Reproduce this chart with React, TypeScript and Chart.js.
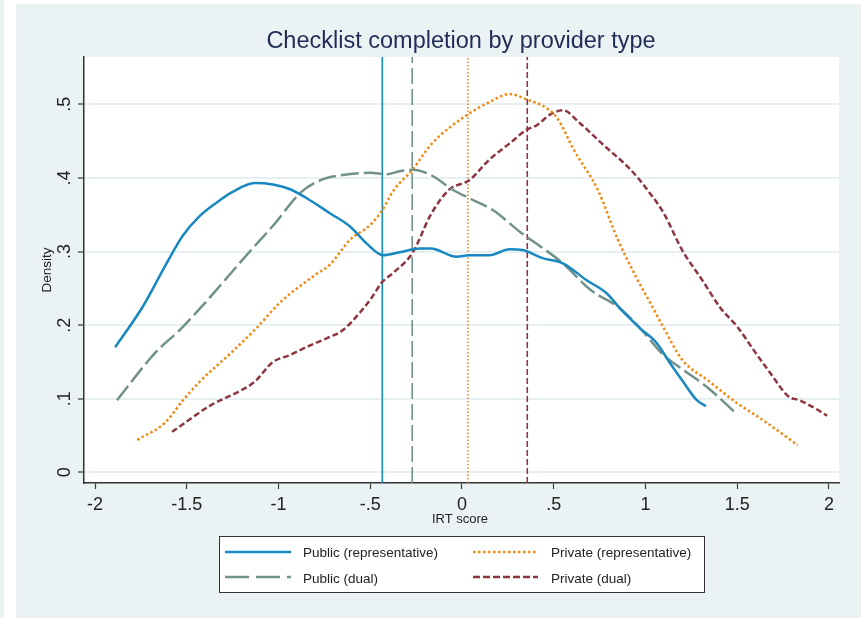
import React, { useEffect, useRef } from "react";
import { Chart, registerables } from "chart.js";

Chart.register(...registerables);

// ---------- data ----------
const xTicks = [-2, -1.5, -1, -0.5, 0, 0.5, 1, 1.5, 2];
const xTickLabels = ["-2", "-1.5", "-1", "-.5", "0", ".5", "1", "1.5", "2"];
const yTicks = [0, 0.1, 0.2, 0.3, 0.4, 0.5];
const yTickLabels = ["0", ".1", ".2", ".3", ".4", ".5"];
const xRange = [-2.06, 2.055];
const yRange = [-0.0145, 0.5643];

const seriesNames = [
  "Public (representative)",
  "Public (dual)",
  "Private (representative)",
  "Private (dual)",
];

const pubRepX = [-1.89, -1.74, -1.61, -1.52, -1.43, -1.34, -1.25, -1.13, -1.03, -0.94, -0.85, -0.72, -0.61, -0.52, -0.43, -0.34, -0.23, -0.17, -0.03, 0.04, 0.15, 0.26, 0.33, 0.44, 0.55, 0.68, 0.79, 0.86, 0.97, 1.06, 1.13, 1.2, 1.28, 1.33];
const pubRepY = [0.17, 0.225, 0.284, 0.322, 0.348, 0.366, 0.381, 0.393, 0.391, 0.385, 0.373, 0.352, 0.334, 0.311, 0.295, 0.299, 0.304, 0.304, 0.293, 0.295, 0.295, 0.303, 0.302, 0.291, 0.284, 0.261, 0.243, 0.223, 0.196, 0.176, 0.15, 0.125, 0.098, 0.09];

const pubDualX = [-1.88, -1.67, -1.54, -1.43, -1.16, -1.03, -0.88, -0.77, -0.65, -0.5, -0.41, -0.34, -0.27, -0.17, -0.05, 0.06, 0.17, 0.32, 0.55, 0.7, 0.86, 0.97, 1.1, 1.19, 1.34, 1.49];
const pubDualY = [0.098, 0.163, 0.193, 0.222, 0.299, 0.335, 0.38, 0.397, 0.404, 0.407, 0.405, 0.409, 0.411, 0.404, 0.384, 0.37, 0.356, 0.326, 0.284, 0.248, 0.223, 0.196, 0.159, 0.142, 0.115, 0.081];

const privRepX = [-1.77, -1.62, -1.52, -1.43, -1.26, -1.12, -0.99, -0.79, -0.72, -0.61, -0.5, -0.44, -0.37, -0.27, -0.17, 0.03, 0.15, 0.26, 0.35, 0.46, 0.52, 0.61, 0.74, 0.85, 0.95, 1.04, 1.1, 1.2, 1.34, 1.5, 1.64, 1.83];
const privRepY = [0.044, 0.067, 0.098, 0.123, 0.162, 0.196, 0.231, 0.27, 0.282, 0.316, 0.336, 0.354, 0.384, 0.411, 0.445, 0.486, 0.503, 0.514, 0.507, 0.495, 0.481, 0.438, 0.384, 0.316, 0.265, 0.224, 0.196, 0.153, 0.125, 0.094, 0.071, 0.037];

const privDualX = [-1.58, -1.37, -1.23, -1.13, -1.03, -0.94, -0.85, -0.72, -0.65, -0.56, -0.49, -0.44, -0.37, -0.27, -0.17, -0.07, 0.04, 0.15, 0.26, 0.35, 0.41, 0.48, 0.55, 0.64, 0.77, 0.92, 1.01, 1.1, 1.2, 1.31, 1.41, 1.5, 1.59, 1.68, 1.78, 1.84, 1.91, 1.99];
const privDualY = [0.055, 0.091, 0.108, 0.123, 0.15, 0.159, 0.17, 0.184, 0.193, 0.216, 0.238, 0.257, 0.272, 0.298, 0.35, 0.384, 0.397, 0.425, 0.447, 0.465, 0.472, 0.486, 0.492, 0.475, 0.445, 0.411, 0.384, 0.352, 0.302, 0.261, 0.223, 0.198, 0.166, 0.135, 0.103, 0.098, 0.089, 0.077];

// vertical reference lines (means)
const meanLines = [-0.434, -0.271, 0.032, 0.356];

// ---------- styles ----------
const colors = ["#1888c0", "#71918a", "#f08a12", "#8e3540"];
const curveDash = [[], [18, 5], [2.5, 2.5], [6, 3]];
const vlineDash = [[], [16, 5], [1.5, 2], [6, 3]];
const legendDash = [[], [24, 7], [2.5, 2.5], [7, 3]];
const BG = "#eaf2f3";
const FONT = "'Liberation Sans', Arial, sans-serif";

const PLOT = { left: 84, right: 839, top: 57, bottom: 483 };
const W = 861;
const H = 618;

function pts(xs: number[], ys: number[]) {
  return xs.map((x, i) => ({ x, y: ys[i] }));
}

export default function App() {
  const ref = useRef<HTMLCanvasElement | null>(null);

  useEffect(() => {
    if (!ref.current) return;
    const curves = [
      pts(pubRepX, pubRepY),
      pts(pubDualX, pubDualY),
      pts(privRepX, privRepY),
      pts(privDualX, privDualY),
    ];

    const datasets: any[] = curves.map((d, i) => ({
      label: seriesNames[i],
      data: d,
      showLine: true,
      borderColor: colors[i],
      backgroundColor: colors[i],
      borderWidth: 2.5,
      borderDash: curveDash[i],
      pointRadius: 0,
      cubicInterpolationMode: "monotone",
      fill: false,
    }));
    meanLines.forEach((v, i) => {
      datasets.push({
        label: "mean " + seriesNames[i],
        data: [
          { x: v, y: yRange[0] },
          { x: v, y: yRange[1] },
        ],
        showLine: true,
        borderColor: colors[i],
        borderWidth: 1.6,
        borderDash: vlineDash[i],
        pointRadius: 0,
        fill: false,
      });
    });

    const bgPlugin = {
      id: "bgPlugin",
      beforeDraw(chart: any) {
        const ctx = chart.ctx;
        ctx.save();
        ctx.fillStyle = "#ffffff";
        ctx.fillRect(0, 0, W, H);
        ctx.fillStyle = BG;
        ctx.fillRect(0, 0, 4, H);
        ctx.fillRect(16, 4, W - 16, H - 4);
        const a = chart.chartArea;
        ctx.fillStyle = "#ffffff";
        ctx.fillRect(a.left, a.top, a.right - a.left, a.bottom - a.top);
        ctx.restore();
      },
      afterDraw(chart: any) {
        const ctx = chart.ctx;
        const xs = chart.scales.x;
        const ys = chart.scales.y;
        ctx.save();
        // title
        ctx.fillStyle = "#1f2c55";
        ctx.font = `23.5px ${FONT}`;
        ctx.textAlign = "center";
        ctx.textBaseline = "alphabetic";
        ctx.fillText("Checklist completion by provider type", 461, 48);

        // x tick labels
        ctx.fillStyle = "#222222";
        ctx.font = `18px ${FONT}`;
        xTicks.forEach((v, i) => {
          ctx.fillText(xTickLabels[i], xs.getPixelForValue(v), 510);
        });
        // y tick labels (rotated)
        yTicks.forEach((v, i) => {
          ctx.save();
          ctx.translate(70, ys.getPixelForValue(v));
          ctx.rotate(-Math.PI / 2);
          ctx.fillText(yTickLabels[i], 0, 0);
          ctx.restore();
        });
        // axis titles
        ctx.font = `13px ${FONT}`;
        ctx.fillText("IRT score", 460, 523);
        ctx.save();
        ctx.translate(51, 270);
        ctx.rotate(-Math.PI / 2);
        ctx.font = `13.5px ${FONT}`;
        ctx.fillText("Density", 0, 0);
        ctx.restore();

        // legend
        ctx.fillStyle = "#ffffff";
        ctx.fillRect(219.5, 536.5, 485, 56);
        ctx.strokeStyle = "#333333";
        ctx.lineWidth = 1;
        ctx.setLineDash([]);
        ctx.strokeRect(219.5, 536.5, 485, 56);
        const cols = [
          { x0: 225, x1: 291, tx: 303 },
          { x0: 473, x1: 538, tx: 551 },
        ];
        const rows = [
          { y: 552, ty: 557 },
          { y: 577, ty: 582.5 },
        ];
        const order = [0, 2, 1, 3];
        order.forEach((si, k) => {
          const c = cols[k % 2];
          const r = rows[Math.floor(k / 2)];
          ctx.strokeStyle = colors[si];
          ctx.lineWidth = 2.5;
          ctx.setLineDash(legendDash[si]);
          ctx.beginPath();
          ctx.moveTo(c.x0, r.y);
          ctx.lineTo(c.x1, r.y);
          ctx.stroke();
          ctx.setLineDash([]);
          ctx.fillStyle = "#222222";
          ctx.font = `13.5px ${FONT}`;
          ctx.textAlign = "left";
          ctx.fillText(seriesNames[si], c.tx, r.ty);
        });
        ctx.restore();
      },
    };

    const chart = new Chart(ref.current, {
      type: "scatter",
      data: { datasets },
      options: {
        animation: false,
        responsive: false,
        devicePixelRatio: 1,
        layout: {
          padding: { left: 0, top: PLOT.top, right: W - PLOT.right, bottom: 0 },
        },
        plugins: {
          legend: { display: false },
          tooltip: { enabled: false },
          title: { display: false },
        },
        scales: {
          x: {
            type: "linear",
            min: xRange[0],
            max: xRange[1],
            afterBuildTicks: (s: any) => {
              s.ticks = xTicks.map((v) => ({ value: v }));
            },
            afterFit: (s: any) => {
              s.height = H - PLOT.bottom;
            },
            ticks: { display: false },
            grid: {
              display: true,
              drawOnChartArea: false,
              drawTicks: true,
              tickLength: 6,
              tickColor: "#3a3a3a",
              tickWidth: 1.2,
            },
            border: { display: true, color: "#333333", width: 1.5 },
          },
          y: {
            type: "linear",
            min: yRange[0],
            max: yRange[1],
            afterBuildTicks: (s: any) => {
              s.ticks = yTicks.map((v) => ({ value: v }));
            },
            afterFit: (s: any) => {
              s.width = PLOT.left;
            },
            ticks: { display: false },
            grid: {
              display: true,
              drawOnChartArea: true,
              drawTicks: true,
              tickLength: 6,
              color: "#e6eff1",
              lineWidth: 2,
              tickColor: "#3a3a3a",
              tickWidth: 1.2,
            },
            border: { display: true, color: "#333333", width: 1.5 },
          },
        },
      },
      plugins: [bgPlugin],
    } as any);

    return () => chart.destroy();
  }, []);

  return (
    <div style={{ position: "fixed", left: 0, top: 0, width: W, height: H }}>
      <canvas ref={ref} width={W} height={H} style={{ width: W, height: H, display: "block" }} />
    </div>
  );
}
